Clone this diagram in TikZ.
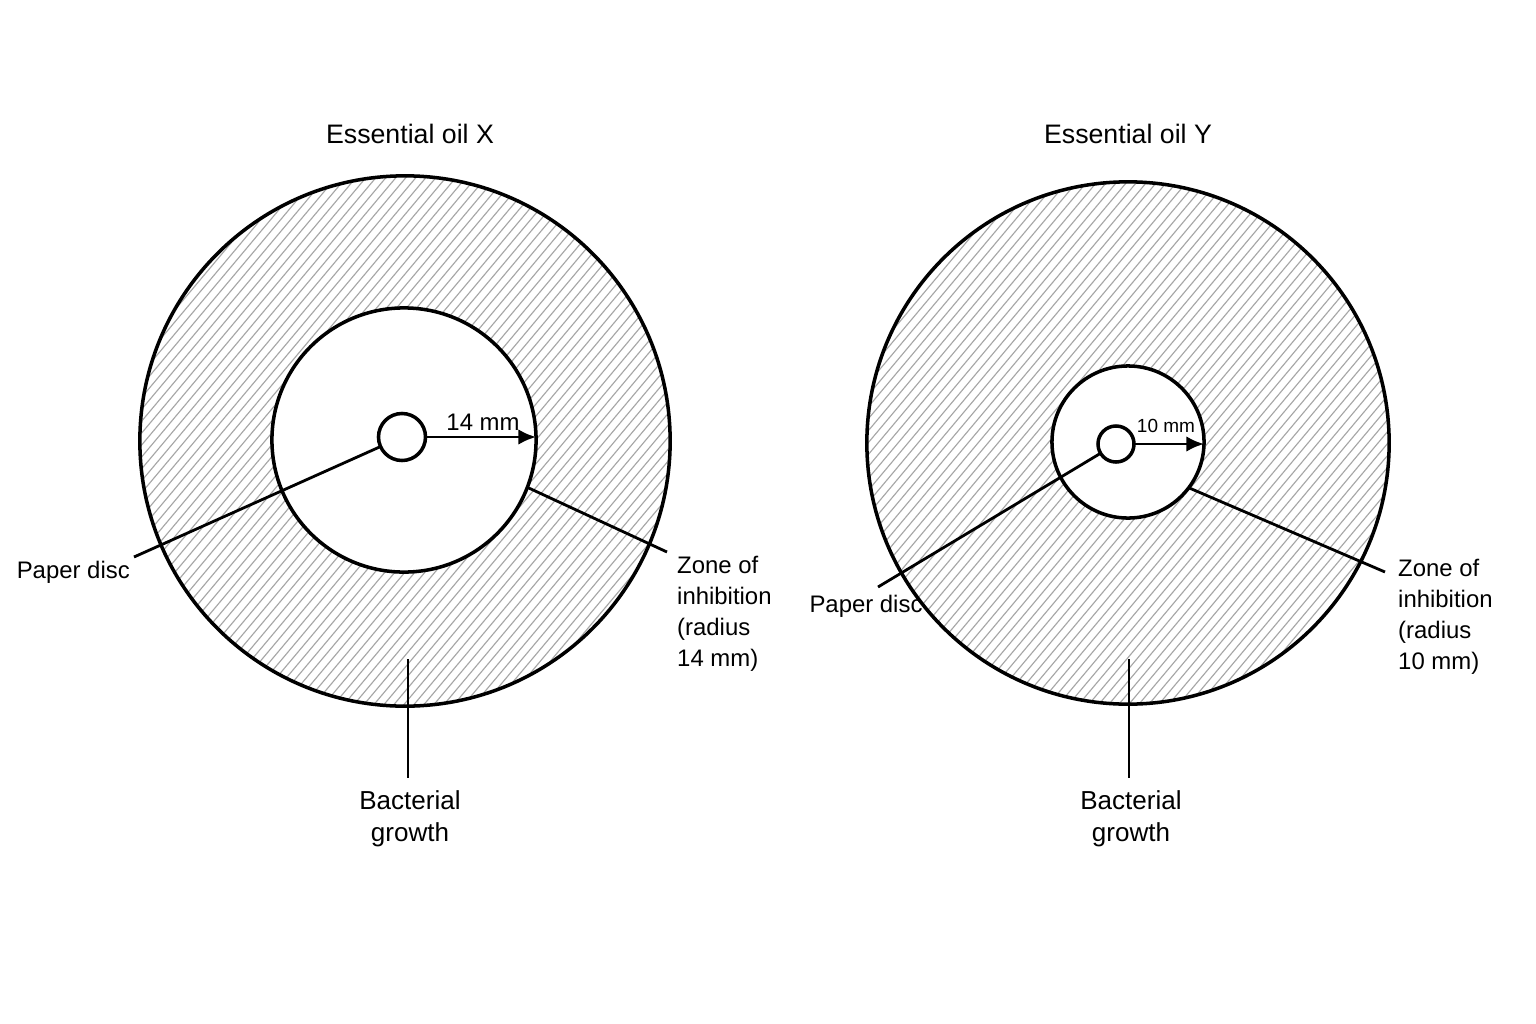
\documentclass[tikz,border=0pt]{standalone}
\usepackage{fontspec}
\setmainfont{Liberation Sans}
\usetikzlibrary{arrows.meta}

\begin{document}
\begin{tikzpicture}[x=0.01cm, y=-0.01cm,
    dish/.style={draw, circle, line width=1pt, inner sep=0pt, outer sep=0pt},
    hatch/.style={gray!70, line width=0.32pt},
    leader/.style={line width=0.8pt},
    radius arrow/.style={line width=0.8pt, -{Latex[length=5pt, width=4.4pt]}},
    title/.style={font=\fontsize{7.6}{9}\selectfont},
    lbl/.style={font=\fontsize{6.8}{8.8}\selectfont, align=left, inner sep=1pt},
    bact/.style={font=\fontsize{7.4}{9.1}\selectfont, align=center, inner sep=3.5pt}]

    \useasboundingbox[fill=white] (0,0) rectangle (1536,1024);

    % Essential oil X
    \node[title] (titleX) at (410,134) {Essential oil X};
    \coordinate (cX) at (405,441);
    \begin{scope}
        \clip (cX) circle (2.64cm);
        \begin{scope}[shift={(cX)}]
            \foreach \i in {-800,-790,...,240}
                \draw[hatch] (\i,310) -- ++(520,-620);
        \end{scope}
    \end{scope}
    \node[dish, minimum size=5.30cm] (outerX) at (cX) {};
    \node[dish, fill=white, minimum size=2.64cm] (innerX) at (404,440) {};
    \node[dish, fill=white, minimum size=0.47cm] (discX) at (402,437) {};

    \node[lbl] (mmX) at (483,422) {14 mm};
    \node[lbl, anchor=north east] (paperX) at (134,557) {Paper disc};
    \node[lbl, anchor=north west] (zoneX) at (673,552) {Zone of\\inhibition\\(radius\\14 mm)};
    \coordinate (zoneXtip) at (667,552);
    \coordinate (bactXtip) at (408,659);
    \node[bact, anchor=north] (bactX) at (410,778) {Bacterial\\growth};

    \draw[radius arrow] (discX.east) -- (discX.east -| innerX.east);
    \draw[leader] (discX.204) -- (paperX.north east);
    \draw[leader] (innerX.-21) -- (zoneXtip);
    \draw[leader] (bactXtip) -- (bactXtip |- bactX.north);

    % Essential oil Y
    \node[title] (titleY) at (1128,134) {Essential oil Y};
    \coordinate (cY) at (1128,443);
    \begin{scope}
        \clip (cY) circle (2.60cm);
        \begin{scope}[shift={(cY)}]
            \foreach \i in {-800,-790,...,240}
                \draw[hatch] (\i,310) -- ++(520,-620);
        \end{scope}
    \end{scope}
    \node[dish, minimum size=5.22cm] (outerY) at (cY) {};
    \node[dish, fill=white, minimum size=1.52cm] (innerY) at (1128,442) {};
    \node[dish, fill=white, minimum size=0.36cm] (discY) at (1116,444) {};

    \node[lbl, font=\fontsize{5.4}{6.5}\selectfont] (mmY) at (1166,426) {10 mm};
    \node[lbl] (paperY) at (866,606) {Paper disc};
    \coordinate (paperYtip) at (878,587);
    \node[lbl, anchor=north west] (zoneY) at (1394,555) {Zone of\\inhibition\\(radius\\10 mm)};
    \coordinate (zoneYtip) at (1385,572);
    \coordinate (bactYtip) at (1129,659);
    \node[bact, anchor=north] (bactY) at (1131,778) {Bacterial\\growth};

    \draw[radius arrow] (discY.east) -- (discY.east -| innerY.east);
    \draw[leader] (discY.211) -- (paperYtip);
    \draw[leader] (innerY.-37) -- (zoneYtip);
    \draw[leader] (bactYtip) -- (bactYtip |- bactY.north);
\end{tikzpicture}
\end{document}
